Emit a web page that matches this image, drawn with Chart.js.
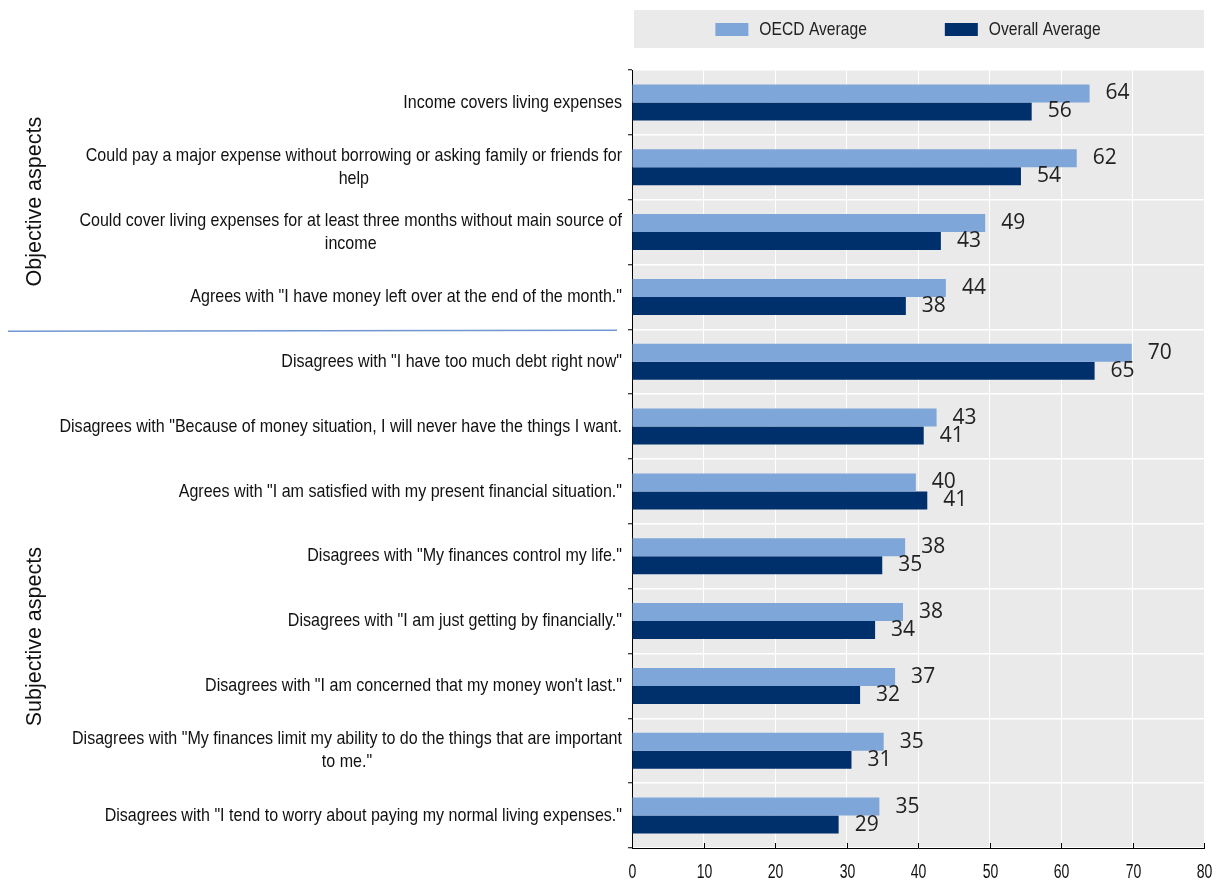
<!DOCTYPE html>
<html>
<head>
<meta charset="utf-8">
<script src="https://cdn.jsdelivr.net/npm/chart.js@4/dist/chart.umd.min.js"></script>
<style>
  html, body { margin: 0; padding: 0; background: #fff; }
  canvas { display: block; }
</style>
</head>
<body>
<canvas id="chart" width="1217" height="882"></canvas>
<script>
const categories = [
  'Income covers living expenses',
  ['Could pay a major expense without borrowing or asking family or friends for', 'help'],
  ['Could cover living expenses for at least three months without main source of', 'income'],
  'Agrees with "I have money left over at the end of the month."',
  'Disagrees with "I have too much debt right now"',
  'Disagrees with "Because of money situation, I will never have the things I want.',
  'Agrees with "I am satisfied with my present financial situation."',
  'Disagrees with "My finances control my life."',
  'Disagrees with "I am just getting by financially."',
  'Disagrees with "I am concerned that my money won\'t last."',
  ['Disagrees with "My finances limit my ability to do the things that are important', 'to me."'],
  'Disagrees with "I tend to worry about paying my normal living expenses."'
]
const oecdAverage = [64.0, 62.2, 49.4, 43.9, 69.9, 42.6, 39.7, 38.2, 37.9, 36.8, 35.2, 34.6]
const overallAverage = [55.9, 54.4, 43.2, 38.3, 64.7, 40.8, 41.3, 35.0, 34.0, 31.9, 30.7, 28.9]
const seriesNames = ['OECD Average', 'Overall Average']
const xTickLabels = ['0', '10', '20', '30', '40', '50', '60', '70', '80']
const groups = [
  { label: 'Objective aspects', first: 0, last: 3 },
  { label: 'Subjective aspects', first: 4, last: 11 }
]

const LIGHT = '#7EA6D9'
const DARK = '#00306C'
const PANEL = '#EAEAEA'
const ARIAL = '"Liberation Sans", Arial, sans-serif'

// Arial Narrow look-alike: Liberation Sans squeezed horizontally
function narrowText(ctx, text, x, y, size, squeeze, align) {
  ctx.save()
  ctx.font = size + 'px ' + ARIAL
  ctx.textBaseline = 'middle'
  ctx.textAlign = align
  ctx.translate(x, y)
  ctx.scale(squeeze, 1)
  ctx.fillText(text, 0, 0)
  ctx.restore()
}
function narrowWidth(ctx, text, size, squeeze) {
  ctx.save()
  ctx.font = size + 'px ' + ARIAL
  const w = ctx.measureText(text).width * squeeze
  ctx.restore()
  return w
}

// gray plot panel + legend box
const backdrop = {
  id: 'backdrop',
  beforeDraw(chart) {
    const { ctx, chartArea: a } = chart
    ctx.save()
    ctx.fillStyle = PANEL
    ctx.fillRect(a.left, a.top, a.right - a.left, a.bottom - a.top)
    ctx.fillRect(a.left + 2, 10, a.right - a.left - 2, 38)
    ctx.restore()
  },
  afterDraw(chart) {
    const { ctx, chartArea: a } = chart
    const box = 33, gap = 11, itemGap = 78
    const widths = seriesNames.map(n => narrowWidth(ctx, n, 18.5, 0.845))
    const total = widths.reduce((s, w) => s + box + gap + w, 0) + itemGap
    let x = (a.left + a.right) / 2 - total / 2 - 10
    ctx.save()
    chart.data.datasets.forEach((ds, i) => {
      ctx.fillStyle = ds.backgroundColor
      ctx.fillRect(x, 23, box, 13)
      ctx.fillStyle = '#222'
      narrowText(ctx, seriesNames[i], x + box + gap, 30, 18.5, 0.845, 'left')
      x += box + gap + widths[i] + itemGap
    })
    ctx.restore()
  }
}

// category labels, group titles, separator, x ticks
const sideLabels = {
  id: 'sideLabels',
  afterDraw(chart) {
    const { ctx, chartArea: a, scales: { x, y } } = chart
    ctx.save()
    ctx.fillStyle = '#111'
    const right = a.left - 10
    categories.forEach((c, i) => {
      const lines = Array.isArray(c) ? c : [c]
      const w = Math.max(...lines.map(l => narrowWidth(ctx, l, 19, 0.845)))
      const cy = y.getPixelForValue(i)
      lines.forEach((l, j) => {
        narrowText(ctx, l, right - w / 2, cy + (j - (lines.length - 1) / 2) * 23, 19, 0.845, 'center')
      })
    })

    const half = (y.getPixelForValue(1) - y.getPixelForValue(0)) / 2
    const shift = [2, 48]
    groups.forEach((g, k) => {
      const top = y.getPixelForValue(g.first) - half
      const bottom = y.getPixelForValue(g.last) + half
      ctx.save()
      ctx.font = '21.5px ' + ARIAL
      ctx.textAlign = 'center'
      ctx.textBaseline = 'middle'
      ctx.translate(35, (top + bottom) / 2 + shift[k])
      ctx.rotate(-Math.PI / 2)
      ctx.fillText(g.label, 0, 0)
      ctx.restore()
      if (k > 0) {
        ctx.strokeStyle = '#7096D1'
        ctx.lineWidth = 1.5
        ctx.beginPath()
        ctx.moveTo(8, top + 2)
        ctx.lineTo(617, top + 1)
        ctx.stroke()
      }
    })

    ctx.strokeStyle = '#000'
    ctx.lineWidth = 1
    x.ticks.forEach((t, i) => {
      const px = Math.round(x.getPixelForValue(t.value)) + 0.5
      ctx.beginPath()
      ctx.moveTo(px, a.bottom)
      ctx.lineTo(px, a.bottom - 5)
      ctx.stroke()
      ctx.fillStyle = '#111'
      narrowText(ctx, xTickLabels[i], px, a.bottom + 25, 19.5, 0.72, 'center')
    })
    ctx.restore()
  }
}

const valueLabels = {
  id: 'valueLabels',
  afterDatasetsDraw(chart) {
    const { ctx } = chart
    ctx.save()
    ctx.font = '21px "Open Sans", "Noto Sans", sans-serif'
    ctx.fillStyle = '#222'
    ctx.textBaseline = 'middle'
    ctx.textAlign = 'left'
    chart.data.datasets.forEach((ds, i) => {
      chart.getDatasetMeta(i).data.forEach((bar, j) => {
        ctx.fillText(String(Math.round(ds.data[j])), bar.x + 16, bar.y)
      })
    })
    ctx.restore()
  }
}

new Chart(document.getElementById('chart'), {
  type: 'bar',
  data: {
    labels: categories,
    datasets: [
      { label: seriesNames[0], data: oecdAverage, backgroundColor: LIGHT },
      { label: seriesNames[1], data: overallAverage, backgroundColor: DARK }
    ]
  },
  options: {
    indexAxis: 'y',
    responsive: false,
    animation: false,
    devicePixelRatio: 1,
    layout: { padding: { top: 70, right: 13, bottom: 0, left: 0 } },
    datasets: { bar: { categoryPercentage: 0.556, barPercentage: 1 } },
    scales: {
      x: {
        min: 0,
        max: 80,
        ticks: { stepSize: 10, display: false },
        grid: { color: '#fff', lineWidth: 1, drawTicks: false },
        border: { color: '#000', width: 1 },
        afterFit: s => { s.height = 34 }
      },
      y: {
        ticks: { display: false },
        grid: { color: '#fff', lineWidth: 1.5, tickColor: '#000', tickLength: 4, tickWidth: 1 },
        border: { color: '#000', width: 1 },
        afterFit: s => { s.width = 632 }
      }
    },
    plugins: {
      legend: { display: false },
      tooltip: { enabled: false }
    }
  },
  plugins: [backdrop, sideLabels, valueLabels]
})
</script>
</body>
</html>
